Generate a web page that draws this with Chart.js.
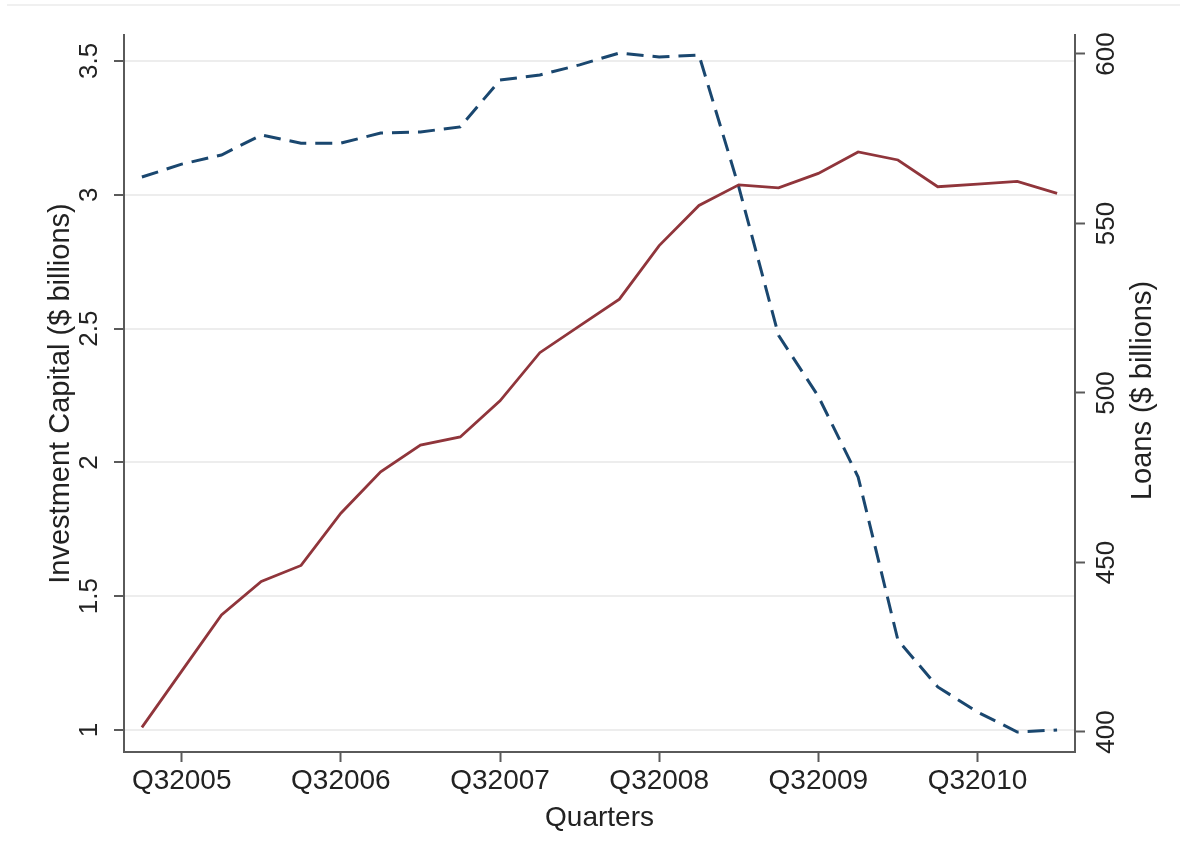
<!DOCTYPE html>
<html>
<head>
<meta charset="utf-8">
<script src="https://cdn.jsdelivr.net/npm/chart.js@4.4.1/dist/chart.umd.min.js"></script>
<style>
  html, body { margin: 0; padding: 0; background: #fff; }
  #wrap { position: relative; width: 1189px; height: 865px; }
</style>
</head>
<body>
<div id="wrap"><canvas id="chart"></canvas></div>
<script>
// quarters from Q2 2005 to Q1 2011
const quarters = [
  "Q22005", "Q32005", "Q42005", "Q12006",
  "Q22006", "Q32006", "Q42006", "Q12007",
  "Q22007", "Q32007", "Q42007", "Q12008",
  "Q22008", "Q32008", "Q42008", "Q12009",
  "Q22009", "Q32009", "Q42009", "Q12010",
  "Q22010", "Q32010", "Q42010", "Q12011"
]
const xTickIndex = [1, 5, 9, 13, 17, 21]

// investment capital, $ billions (left axis)
const investmentCapital = [
  1.01, 1.22, 1.43, 1.555, 1.615, 1.81, 1.965, 2.065,
  2.095, 2.23, 2.41, 2.51, 2.61, 2.81, 2.96, 3.037,
  3.026, 3.08, 3.16, 3.13, 3.03, 3.04, 3.05, 3.005
]
// loans, $ billions (right axis)
const loans = [
  563.7, 567.5, 570.2, 576.1, 573.7, 573.7, 576.7, 577.0,
  578.5, 592.3, 593.8, 596.8, 600.3, 599.1, 599.7, 560.8,
  517.0, 499.0, 475.2, 427.1, 413.3, 405.9, 400.0, 400.6
]

const leftTicks = [1, 1.5, 2, 2.5, 3, 3.5]
const rightTicks = [400, 450, 500, 550, 600]

const leftTitle = "Investment Capital ($ billions)"
const rightTitle = "Loans ($ billions)"
const xTitle = "Quarters"

const FONT = '"Liberation Sans", Arial, Helvetica, sans-serif'
const AXIS = "#5a5a5a"
const TEXT = "#222"

// Chart.js rotates a right-hand title the other way, so draw it here
const rightTitlePlugin = {
  id: "rightTitle",
  afterDraw(chart) {
    const ctx = chart.ctx
    const yr = chart.scales.yRight
    const area = chart.chartArea
    ctx.save()
    ctx.font = "29px " + FONT
    ctx.fillStyle = TEXT
    ctx.textAlign = "center"
    ctx.textBaseline = "middle"
    ctx.translate(yr.right - 46, (area.top + area.bottom) / 2 - 3)
    ctx.rotate(-Math.PI / 2)
    ctx.fillText(rightTitle, 0, 0)
    ctx.restore()
  },
  beforeDraw(chart) {
    // faint frame line at the top of the picture
    const ctx = chart.ctx
    ctx.save()
    ctx.strokeStyle = "#f0f0f0"
    ctx.lineWidth = 2
    ctx.beginPath()
    ctx.moveTo(7, 5)
    ctx.lineTo(1180, 5)
    ctx.stroke()
    ctx.restore()
  }
}

new Chart(document.getElementById("chart"), {
  type: "line",
  data: {
    datasets: [
      {
        label: "Investment Capital",
        data: investmentCapital.map((v, i) => ({ x: i, y: v })),
        yAxisID: "y",
        borderColor: "#90353b",
        borderWidth: 2.8,
        pointRadius: 0,
        tension: 0,
        fill: false
      },
      {
        label: "Loans",
        data: loans.map((v, i) => ({ x: i, y: v })),
        yAxisID: "yRight",
        borderColor: "#1a476f",
        borderWidth: 3,
        borderDash: [17, 9],
        pointRadius: 0,
        tension: 0,
        fill: false
      }
    ]
  },
  options: {
    responsive: true,
    maintainAspectRatio: false,
    animation: false,
    layout: { padding: { top: 35, left: 0, right: 0, bottom: 0 } },
    plugins: {
      legend: { display: false },
      tooltip: { enabled: false }
    },
    scales: {
      x: {
        type: "linear",
        min: -0.45,
        max: 23.45,
        afterBuildTicks: s => { s.ticks = xTickIndex.map(v => ({ value: v })) },
        afterFit: s => { s.height = 113 },
        grid: { drawOnChartArea: false, tickLength: 10, tickColor: AXIS, tickWidth: 2 },
        border: { color: AXIS, width: 2 },
        ticks: {
          color: TEXT,
          font: { family: FONT, size: 28 },
          padding: 2,
          maxRotation: 0,
          autoSkip: false,
          callback: v => quarters[v]
        },
        title: {
          display: true,
          text: xTitle,
          color: TEXT,
          font: { family: FONT, size: 28 },
          padding: { top: 0, bottom: 30 }
        }
      },
      y: {
        position: "left",
        min: 0.918,
        max: 3.597,
        afterBuildTicks: s => { s.ticks = leftTicks.map(v => ({ value: v })) },
        afterFit: s => { s.width = 124 },
        grid: { color: "#ededed", lineWidth: 2, tickLength: 10, tickColor: AXIS, tickWidth: 2 },
        border: { color: AXIS, width: 2 },
        ticks: {
          color: TEXT,
          font: { family: FONT, size: 26 },
          minRotation: 90,
          maxRotation: 90,
          crossAlign: "center",
          padding: 6,
          autoSkip: false,
          callback: v => String(v)
        },
        title: {
          display: true,
          text: leftTitle,
          color: TEXT,
          font: { family: FONT, size: 29 },
          padding: { top: 44, bottom: 0 }
        }
      },
      yRight: {
        position: "right",
        min: 394.1,
        max: 605.6,
        afterBuildTicks: s => { s.ticks = rightTicks.map(v => ({ value: v })) },
        afterFit: s => { s.width = 114 },
        grid: { drawOnChartArea: false, tickLength: 10, tickColor: AXIS, tickWidth: 2 },
        border: { color: AXIS, width: 2 },
        ticks: {
          color: TEXT,
          font: { family: FONT, size: 26 },
          minRotation: 90,
          maxRotation: 90,
          crossAlign: "center",
          padding: 0,
          autoSkip: false,
          callback: v => String(v)
        }
      }
    }
  },
  plugins: [rightTitlePlugin]
})
</script>
</body>
</html>
